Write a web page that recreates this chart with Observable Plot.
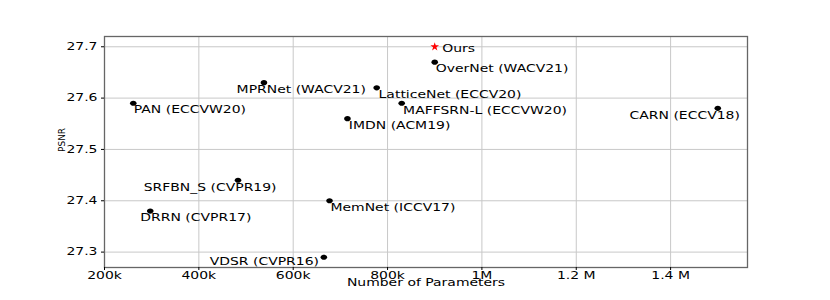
<!DOCTYPE html>
<html>
<head>
<meta charset="utf-8">
<script src="https://cdn.jsdelivr.net/npm/d3@7"></script>
<script src="https://cdn.jsdelivr.net/npm/@observablehq/plot@0.6"></script>
<style>
  html, body { margin: 0; padding: 0; background: #fff; }
</style>
</head>
<body>
<div id="chart"></div>
<script>
const methods = ["Ours", "OverNet (WACV21)", "LatticeNet (ECCV20)", "MAFFSRN-L (ECCVW20)", "MPRNet (WACV21)", "PAN (ECCVW20)", "IMDN (ACM19)", "CARN (ECCV18)", "SRFBN_S (CVPR19)", "DRRN (CVPR17)", "MemNet (ICCV17)", "VDSR (CVPR16)"];
const params = [900000, 900000, 777000, 830000, 538000, 261000, 715000, 1500000, 483000, 297000, 677000, 665000];
const psnr = [27.70, 27.67, 27.62, 27.59, 27.63, 27.59, 27.56, 27.58, 27.44, 27.38, 27.40, 27.29];
// annotation text anchors, in data units
const labelX = [916000, 902000, 781000, 833000, 480000, 262000, 718000, 1313000, 283000, 276000, 679000, 423000];
const labelY = [27.697, 27.657, 27.607, 27.576, 27.616, 27.577, 27.546, 27.566, 27.426, 27.367, 27.386, 27.282];
const xTicks = [200000, 400000, 600000, 800000, 1000000, 1200000, 1400000];
const xTickLabels = ["200k", "400k", "600k", "800k", "1M", "1.2 M", "1.4 M"];
const yTicks = [27.3, 27.4, 27.5, 27.6, 27.7];

const rows = methods.map((m, i) => ({method: m, params: params[i], psnr: psnr[i], lx: labelX[i], ly: labelY[i], ours: m === "Ours"}));

const k = 0.5523;
const ellipse = {
  draw(ctx) {
    const rx = 3.3, ry = 2.6;
    ctx.moveTo(rx, 0);
    ctx.bezierCurveTo(rx, ry * k, rx * k, ry, 0, ry);
    ctx.bezierCurveTo(-rx * k, ry, -rx, ry * k, -rx, 0);
    ctx.bezierCurveTo(-rx, -ry * k, -rx * k, -ry, 0, -ry);
    ctx.bezierCurveTo(rx * k, -ry, rx, -ry * k, rx, 0);
    ctx.closePath();
  }
};

const fs = 10.5;
const chart = Plot.plot({
  width: 830,
  height: 300,
  marginLeft: 104,
  marginRight: 83,
  marginTop: 36,
  marginBottom: 33,
  style: {fontFamily: "'DejaVu Sans', sans-serif", fontSize: fs + "px", background: "#fff", color: "#000"},
  x: {domain: [200000, 1563000]},
  y: {domain: [27.27, 27.72]},
  marks: [
    Plot.gridX(xTicks, {stroke: "#c8c8c8", strokeOpacity: 1, strokeWidth: 1}),
    Plot.gridY(yTicks, {stroke: "#c8c8c8", strokeOpacity: 1, strokeWidth: 1}),
    Plot.frame({stroke: "#666", strokeWidth: 1.3}),
    Plot.axisX({ticks: xTicks, tickFormat: d => xTickLabels[xTicks.indexOf(d)], tickSize: 3, tickPadding: 1, fontSize: fs, label: null}),
    Plot.axisY({ticks: yTicks, tickFormat: d => d.toFixed(1), tickSize: 3, tickPadding: 4, fontSize: fs, label: null}),
    Plot.dot(rows.filter(d => !d.ours), {x: "params", y: "psnr", symbol: ellipse, fill: "#000", stroke: "none"}),
    Plot.dot(rows.filter(d => d.ours), {x: "params", y: "psnr", symbol: "star", r: 2.7, fill: "#ff0000", stroke: "none"}),
    Plot.text(rows, {x: "lx", y: "ly", text: "method", textAnchor: "start", lineAnchor: "middle", fontSize: fs, fill: "#000"}),
    Plot.text(["Number of Parameters"], {frameAnchor: "bottom", dy: 18.8, fontSize: fs, fill: "#000"}),
    Plot.text(["PSNR"], {frameAnchor: "left", dx: -42.5, rotate: -90, fontSize: 9, fill: "#000"})
  ]
});

// horizontal stretch of the text, as in the reference picture
chart.querySelectorAll("text").forEach(t => {
  const tr = t.getAttribute("transform") || "";
  if (tr.includes("rotate")) return;
  if (tr) {
    t.setAttribute("transform", tr + " scale(1.33,1)");
  } else {
    const x = +(t.getAttribute("x") || 0), y = +(t.getAttribute("y") || 0);
    t.removeAttribute("x"); t.removeAttribute("y");
    t.setAttribute("transform", `translate(${x},${y}) scale(1.33,1)`);
  }
});

document.getElementById("chart").appendChild(chart);
</script>
</body>
</html>
